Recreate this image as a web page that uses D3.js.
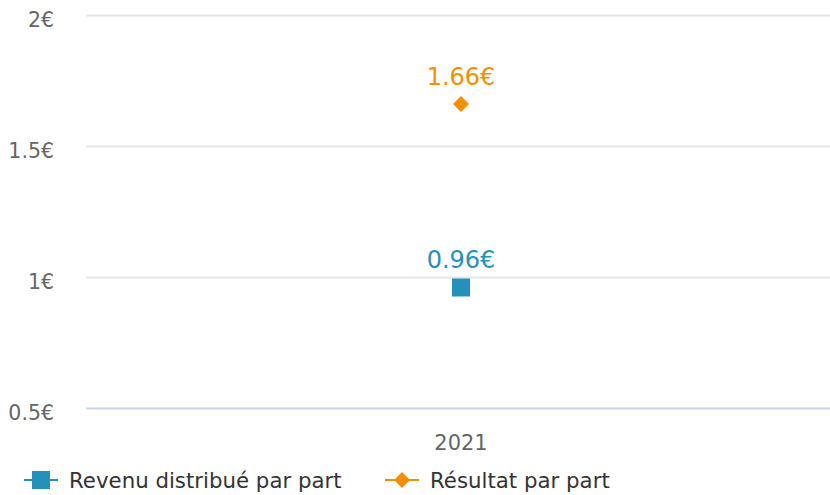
<!DOCTYPE html>
<html>
<head>
<meta charset="utf-8">
<script src="https://cdn.jsdelivr.net/npm/d3@7"></script>
<style>
  body { margin: 0; background: #fff; }
  text { font-family: "DejaVu Sans", sans-serif; }
</style>
</head>
<body>
<div id="vis"></div>
<script>
var width = 830
var height = 495

// data
var categories = ["2021"]
var revenu = [0.96]
var resultat = [1.66]
var yTicks = [0.5, 1, 1.5, 2]
var seriesNames = ["Revenu distribué par part", "Résultat par part"]
var blue = "#2491b8"
var orange = "#f28f00"

var svg = d3.select("#vis")
  .append("svg")
  .attr("width", width)
  .attr("height", height)
  .style("display", "block")

var x = d3.scalePoint()
  .domain(categories)
  .range([86, 836])
  .padding(0.5)

var y = d3.scaleLinear()
  .domain([0.5, 2])
  .range([408, 15])

var fmt = function(v) { return String(v) + "€" }

//grid lines
svg.append("g")
  .selectAll("line")
  .data(yTicks)
  .enter().append("line")
    .attr("x1", 86)
    .attr("x2", width)
    .attr("y1", d => Math.round(y(d)) + 0.5)
    .attr("y2", d => Math.round(y(d)) + 0.5)
    .attr("stroke", d => d === 0.5 ? "#ccd6eb" : "#e6e6e6")
    .attr("stroke-width", 2)

//y labels
svg.append("g")
  .selectAll("text")
  .data(yTicks)
  .enter().append("text")
    .attr("x", 54)
    .attr("y", d => y(d) + 12)
    .attr("text-anchor", "end")
    .attr("fill", "#666")
    .style("font-size", "20.5px")
    .text(fmt)

//x labels
svg.append("g")
  .selectAll("text")
  .data(categories)
  .enter().append("text")
    .attr("x", d => x(d))
    .attr("y", 450)
    .attr("text-anchor", "middle")
    .attr("fill", "#666")
    .style("font-size", "21px")
    .text(d => d)

//revenu points (square)
svg.append("g")
  .selectAll("rect")
  .data(revenu)
  .enter().append("rect")
    .attr("x", (d, i) => x(categories[i]) - 9)
    .attr("y", d => y(d) - 9)
    .attr("width", 18)
    .attr("height", 18)
    .attr("fill", blue)

svg.append("g")
  .selectAll("text")
  .data(revenu)
  .enter().append("text")
    .attr("x", (d, i) => x(categories[i]))
    .attr("y", d => y(d) - 19.5)
    .attr("text-anchor", "middle")
    .attr("fill", blue)
    .style("font-size", "24px")
    .text(d => d.toFixed(2) + "€")

//resultat points (diamond)
var diamond = "M0,-8L8,0L0,8L-8,0Z"
svg.append("g")
  .selectAll("path")
  .data(resultat)
  .enter().append("path")
    .attr("d", diamond)
    .attr("transform", (d, i) => `translate(${x(categories[i])},${y(d)})`)
    .attr("fill", orange)

svg.append("g")
  .selectAll("text")
  .data(resultat)
  .enter().append("text")
    .attr("x", (d, i) => x(categories[i]))
    .attr("y", d => y(d) - 19)
    .attr("text-anchor", "middle")
    .attr("fill", orange)
    .style("font-size", "24px")
    .text(d => d.toFixed(2) + "€")

//legend
var legendX = [41, 402]
var legend = svg.append("g")
  .selectAll("g")
  .data(seriesNames)
  .enter().append("g")
    .attr("transform", (d, i) => `translate(${legendX[i]},480)`)

legend.append("line")
  .attr("x1", -17)
  .attr("x2", 17)
  .attr("stroke", (d, i) => i === 0 ? blue : orange)
  .attr("stroke-width", 2)

legend.each(function(d, i) {
  var g = d3.select(this)
  if (i === 0) {
    g.append("rect").attr("x", -9).attr("y", -9).attr("width", 18).attr("height", 18).attr("fill", blue)
  } else {
    g.append("path").attr("d", diamond).attr("fill", orange)
  }
})

legend.append("text")
  .attr("x", 28)
  .attr("y", 8)
  .attr("fill", "#333")
  .style("font-size", "21.3px")
  .text(d => d)
</script>
</body>
</html>
